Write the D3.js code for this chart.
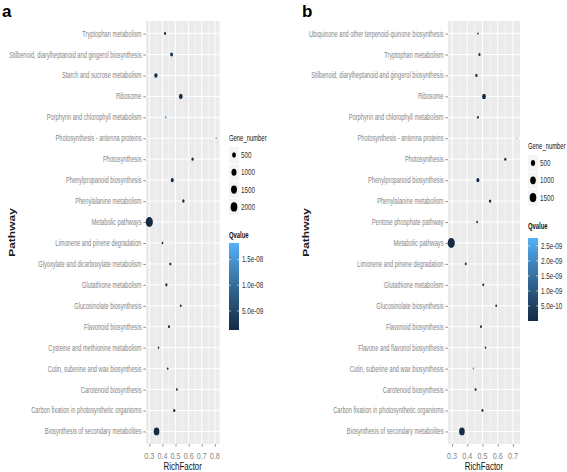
<!DOCTYPE html>
<html><head><meta charset="utf-8">
<script src="https://cdn.jsdelivr.net/npm/d3@7"></script>
<style>body{margin:0;background:#fff}</style>
</head><body>
<svg id="c" width="567" height="472" xmlns="http://www.w3.org/2000/svg"></svg>
<script>
// ---------- DATA ----------
const pathwaysA = [
  "Tryptophan metabolism",
  "Stilbenoid, diarylheptanoid and gingerol biosynthesis",
  "Starch and sucrose metabolism",
  "Ribosome",
  "Porphyrin and chlorophyll metabolism",
  "Photosynthesis - antenna proteins",
  "Photosynthesis",
  "Phenylpropanoid biosynthesis",
  "Phenylalanine metabolism",
  "Metabolic pathways",
  "Limonene and pinene degradation",
  "Glyoxylate and dicarboxylate metabolism",
  "Glutathione metabolism",
  "Glucosinolate biosynthesis",
  "Flavonoid biosynthesis",
  "Cysteine and methionine metabolism",
  "Cutin, suberine and wax biosynthesis",
  "Carotenoid biosynthesis",
  "Carbon fixation in photosynthetic organisms",
  "Biosynthesis of secondary metabolites"
];
const richA  = [0.42, 0.47, 0.35, 0.54, 0.425, 0.81, 0.63, 0.475, 0.56, 0.30, 0.40, 0.46, 0.43, 0.54, 0.45, 0.37, 0.44, 0.51, 0.49, 0.355];
const genesA = [100, 200, 300, 450, 60, 40, 120, 250, 150, 2300, 60, 100, 110, 70, 90, 50, 60, 70, 120, 1300];
const qvalA  = [2.0e-9, 1.6e-9, 1.5e-9, 1.3e-9, 1.82e-8, 9.0e-9, 2.5e-9, 1.4e-9, 2.0e-9, 1.3e-9, 2.2e-9, 2.0e-9, 1.8e-9, 2.4e-9, 1.9e-9, 2.3e-9, 2.1e-9, 2.0e-9, 1.7e-9, 1.3e-9];

const pathwaysB = [
  "Ubiquinone and other terpenoid-quinone biosynthesis",
  "Tryptophan metabolism",
  "Stilbenoid, diarylheptanoid and gingerol biosynthesis",
  "Ribosome",
  "Porphyrin and chlorophyll metabolism",
  "Photosynthesis - antenna proteins",
  "Photosynthesis",
  "Phenylpropanoid biosynthesis",
  "Phenylalanine metabolism",
  "Pentose phosphate pathway",
  "Metabolic pathways",
  "Limonene and pinene degradation",
  "Glutathione metabolism",
  "Glucosinolate biosynthesis",
  "Flavonoid biosynthesis",
  "Flavone and flavonol biosynthesis",
  "Cutin, suberine and wax biosynthesis",
  "Carotenoid biosynthesis",
  "Carbon fixation in photosynthetic organisms",
  "Biosynthesis of secondary metabolites"
];
const richB  = [0.47, 0.48, 0.46, 0.51, 0.47, 0.725, 0.65, 0.47, 0.55, 0.465, 0.295, 0.39, 0.505, 0.59, 0.49, 0.52, 0.44, 0.455, 0.50, 0.365];
const genesB = [40, 80, 90, 400, 60, 30, 80, 180, 100, 50, 1800, 60, 60, 50, 60, 40, 40, 60, 70, 1000];
const qvalB  = [4e-10, 1e-10, 1e-10, 1e-12, 1e-10, 2.76e-9, 1e-10, 1e-11, 1e-10, 3e-10, 1e-15, 2e-10, 1e-10, 2e-10, 1e-10, 2e-10, 2.3e-9, 1e-10, 1e-10, 1e-14];

const xTicksA = [0.3, 0.4, 0.5, 0.6, 0.7, 0.8];
const xTicksB = [0.3, 0.4, 0.5, 0.6, 0.7];
const sizeBreaksA = [500, 1000, 1500, 2000];
const sizeBreaksB = [500, 1000, 1500];
const qBreaksA = [5.0e-9, 1.0e-8, 1.5e-8];
const qBreaksB = [5.0e-10, 1.0e-9, 1.5e-9, 2.0e-9, 2.5e-9];
const qLabelsA = ["5.0e-09", "1.0e-08", "1.5e-08"];
const qLabelsB = ["5.0e-10", "1.0e-09", "1.5e-09", "2.0e-09", "2.5e-09"];

// ---------- DRAW ----------
const svg = d3.select("#c");
const FONT = "'Liberation Sans', Arial, sans-serif";
const SX = 0.67; // horizontal condensing seen in the reference

function ctext(g, x, y, txt, opts) {
  const o = Object.assign({size: 8.5, anchor: "start", fill: "#858585", weight: "normal", sx: SX, rotate: 0}, opts || {});
  return g.append("text")
    .attr("transform", `translate(${x},${y}) scale(${o.sx},1)` + (o.rotate ? ` rotate(${o.rotate})` : ""))
    .attr("text-anchor", o.anchor)
    .attr("font-family", FONT)
    .attr("font-size", o.size)
    .attr("font-weight", o.weight)
    .attr("fill", o.fill)
    .text(txt);
}

const lowCol = "#132B43", highCol = "#56B1F7";

function panel(cfg) {
  const g = svg.append("g");
  const {left, right, top, bottom} = cfg;
  const ext = d3.extent(cfg.rich);
  const pad = (ext[1] - ext[0]) * 0.05;
  const x = d3.scaleLinear().domain([ext[0] - pad, ext[1] + pad]).range([left, right]);
  const y = d3.scalePoint().domain(cfg.cats).range([top, bottom]).padding(0.6);
  const gext = d3.extent(cfg.genes);
  const sizeOf = v => 1 + 5 * Math.sqrt(Math.max(0, (v - gext[0]) / (gext[1] - gext[0])));
  const qext = d3.extent(cfg.q);
  const col = d3.scaleLinear().domain(qext).range([lowCol, highCol]).interpolate(d3.interpolateLab);
  const PX = 1.65;

  // background
  g.append("rect").attr("x", left).attr("y", top).attr("width", right - left).attr("height", bottom - top).attr("fill", "#EBEBEB");
  // minor vertical grid
  const minor = cfg.xticks.slice(0, -1).map(t => t + 0.05).concat([cfg.xticks[0] - 0.05, cfg.xticks[cfg.xticks.length - 1] + 0.05]).filter(t => t > x.domain()[0] && t < x.domain()[1]);
  g.selectAll(".mg").data(minor).enter().append("line")
    .attr("x1", d => x(d)).attr("x2", d => x(d)).attr("y1", top).attr("y2", bottom)
    .attr("stroke", "#fff").attr("stroke-width", 0.5);
  // major grid
  g.selectAll(".vg").data(cfg.xticks).enter().append("line")
    .attr("x1", d => x(d)).attr("x2", d => x(d)).attr("y1", top).attr("y2", bottom)
    .attr("stroke", "#fff").attr("stroke-width", 1);
  g.selectAll(".hg").data(cfg.cats).enter().append("line")
    .attr("x1", left).attr("x2", right).attr("y1", d => y(d)).attr("y2", d => y(d))
    .attr("stroke", "#fff").attr("stroke-width", 1);

  // y axis
  const ya = g.append("g").attr("transform", `translate(${left},0)`)
    .call(d3.axisLeft(y).tickSize(2.7).tickPadding(2));
  ya.select(".domain").remove();
  ya.selectAll(".tick line").attr("stroke", "#666").attr("stroke-width", 0.7);
  ya.selectAll(".tick text").remove();
  cfg.cats.forEach(c => ctext(g, left - 4.5, y(c) + 3, c, {anchor: "end"}));

  // x axis
  const xa = g.append("g").attr("transform", `translate(0,${bottom})`)
    .call(d3.axisBottom(x).tickValues(cfg.xticks).tickSize(2.7).tickFormat(d3.format(".1f")));
  xa.select(".domain").remove();
  xa.selectAll(".tick line").attr("stroke", "#666").attr("stroke-width", 0.7);
  xa.selectAll(".tick text").remove();
  cfg.xticks.forEach(t => ctext(g, x(t), bottom + 14.5, d3.format(".1f")(t), {anchor: "middle", size: 9, sx: 0.8}));

  // axis titles
  ctext(g, (left + right) / 2, 470, "RichFactor", {anchor: "middle", size: 11, fill: "#111", sx: 0.72});
  ctext(g, cfg.ytitleX, (top + bottom) / 2, "Pathway", {anchor: "middle", size: 12, fill: "#1a1a1a", weight: "bold", sx: 0.72, rotate: -90});

  // points
  const data = cfg.cats.map((c, i) => ({c, r: cfg.rich[i], n: cfg.genes[i], q: cfg.q[i]}));
  data.sort((a, b) => a.n - b.n);
  g.selectAll(".pt").data(data).enter().append("ellipse")
    .attr("cx", d => x(d.r)).attr("cy", d => y(d.c))
    .attr("ry", d => sizeOf(d.n) * PX / 2)
    .attr("rx", d => sizeOf(d.n) * PX / 2 * 0.72)
    .attr("fill", d => col(d.q));

  // panel letter
  g.append("text").attr("x", cfg.letterX).attr("y", 17).attr("font-family", FONT)
    .attr("font-size", 17).attr("font-weight", "bold").attr("fill", "#000").text(cfg.letter);

  // size legend
  const L = cfg.legX;
  ctext(g, L, cfg.sizeTitleY, "Gene_number", {fill: "#111", size: 9.5, sx: 0.62});
  cfg.sizeBreaks.forEach((b, i) => {
    const cy = cfg.sizeTitleY + 14 + i * 17.3;
    g.append("rect").attr("x", L).attr("y", cy - 8).attr("width", 10).attr("height", 16).attr("fill", "#F4F4F4");
    g.append("ellipse").attr("cx", L + 5).attr("cy", cy)
      .attr("ry", sizeOf(b) * PX / 2).attr("rx", sizeOf(b) * PX / 2 * 0.72).attr("fill", "#000");
    ctext(g, L + 12, cy + 3, String(b), {fill: "#333", size: 9, sx: 0.7});
  });

  // colour bar legend
  ctext(g, L, cfg.qTitleY, "Qvalue", {fill: "#111", size: 9.5, sx: 0.62, weight: "bold"});
  const bt = cfg.barTop, bb = cfg.barBottom, bw = 10;
  const yq = d3.scaleLinear().domain(qext).range([bb, bt]);
  const gid = "grad" + cfg.letter;
  const grad = svg.append("defs").append("linearGradient").attr("id", gid)
    .attr("x1", 0).attr("y1", 1).attr("x2", 0).attr("y2", 0);
  d3.range(0, 1.0001, 0.1).forEach(t => {
    grad.append("stop").attr("offset", t).attr("stop-color", col(qext[0] + t * (qext[1] - qext[0])));
  });
  g.append("rect").attr("x", L).attr("y", bt).attr("width", bw).attr("height", bb - bt).attr("fill", `url(#${gid})`);
  cfg.qBreaks.forEach((b, i) => {
    const yy = yq(b);
    g.append("line").attr("x1", L).attr("x2", L + 2).attr("y1", yy).attr("y2", yy).attr("stroke", "#fff").attr("stroke-width", 0.6);
    g.append("line").attr("x1", L + bw - 2).attr("x2", L + bw).attr("y1", yy).attr("y2", yy).attr("stroke", "#fff").attr("stroke-width", 0.6);
    ctext(g, L + bw + 3, yy + 3, cfg.qLabels[i], {fill: "#333", size: 9, sx: 0.7});
  });
}

panel({
  letter: "a", letterX: 2, cats: pathwaysA, rich: richA, genes: genesA, q: qvalA,
  left: 146, right: 219.5, top: 21, bottom: 444, ytitleX: 15,
  xticks: xTicksA, sizeBreaks: sizeBreaksA, qBreaks: qBreaksA, qLabels: qLabelsA,
  legX: 229, sizeTitleY: 141, qTitleY: 238, barTop: 243, barBottom: 330
});
panel({
  letter: "b", letterX: 302, cats: pathwaysB, rich: richB, genes: genesB, q: qvalB,
  left: 448, right: 520, top: 21, bottom: 444, ytitleX: 309,
  xticks: xTicksB, sizeBreaks: sizeBreaksB, qBreaks: qBreaksB, qLabels: qLabelsB,
  legX: 528, sizeTitleY: 149, qTitleY: 229, barTop: 238, barBottom: 321
});
</script>
</body></html>
